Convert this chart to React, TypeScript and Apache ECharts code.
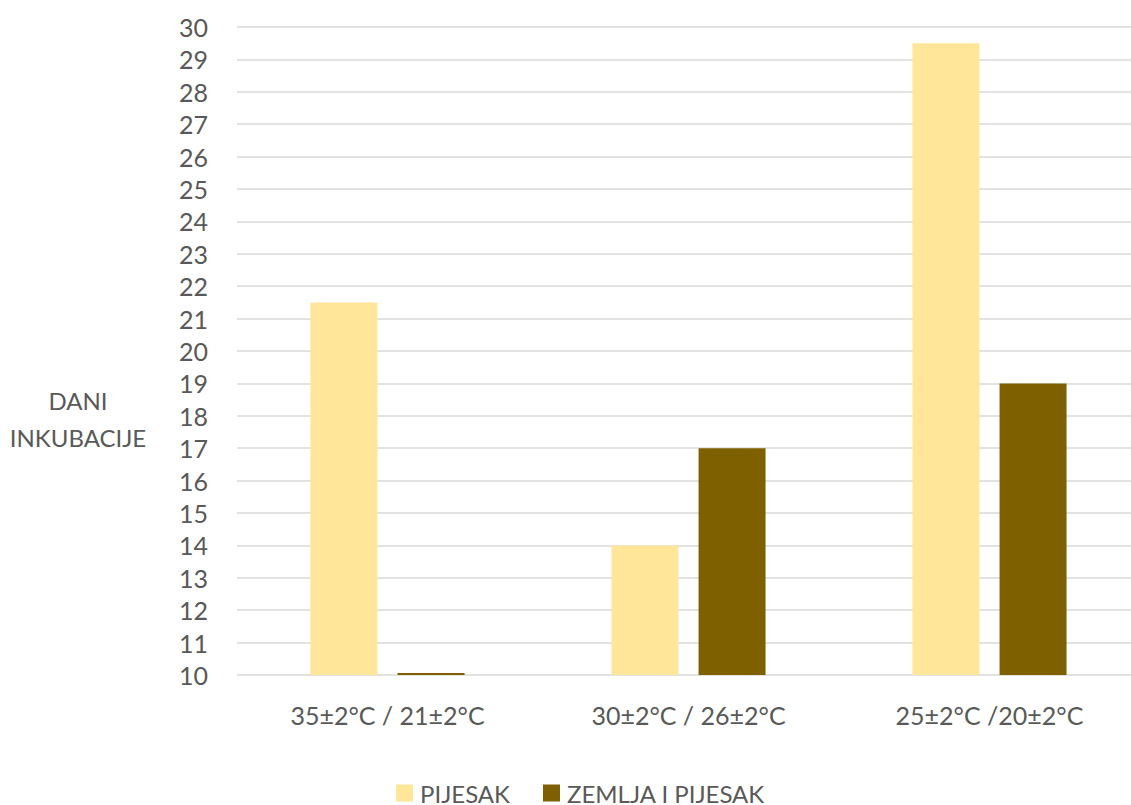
import React, { useEffect, useRef } from "react";
import * as echarts from "echarts";

const categories = ["35±2°C / 21±2°C", "30±2°C / 26±2°C", "25±2°C /20±2°C"];
const seriesNames = ["PIJESAK", "ZEMLJA I PIJESAK"];
const pijesak = [21.5, 14, 29.5];
const zemljaIPijesak = [10, 17, 19];
const yMin = 10;
const yMax = 30;

export default function App() {
  const ref = useRef<HTMLDivElement>(null);
  useEffect(() => {
    if (!ref.current) return;
    const chart = echarts.init(ref.current, null, { renderer: "svg" });
    const font = "Lato, 'Open Sans', sans-serif";
    const grey = "#595959";
    const dark = "#7F6000";
    // bars rise from the axis floor (yMin), so values are plotted relative to it
    const rel = (arr: number[]) => arr.map((v) => v - yMin);
    chart.setOption({
      animation: false,
      backgroundColor: "#ffffff",
      textStyle: { fontFamily: font },
      grid: {
        left: 237,
        top: 27,
        width: 903,
        height: 648,
        containLabel: false,
        outerBoundsMode: "none",
      },
      legend: {
        left: 396,
        top: 781,
        padding: 0,
        itemWidth: 17,
        itemHeight: 17,
        itemGap: 33,
        icon: "rect",
        textStyle: { fontSize: 24, color: grey, fontFamily: font, padding: [0, 0, 0, 2] },
        data: seriesNames,
      },
      graphic: [
        {
          type: "text",
          x: 78,
          y: 400,
          style: {
            text: "DANI",
            fontSize: 24,
            fill: grey,
            fontFamily: font,
            align: "center",
            verticalAlign: "middle",
          },
        },
        {
          type: "text",
          x: 78,
          y: 437,
          style: {
            text: "INKUBACIJE",
            fontSize: 24,
            fill: grey,
            fontFamily: font,
            align: "center",
            verticalAlign: "middle",
          },
        },
      ],
      xAxis: {
        type: "category",
        data: categories,
        axisLine: { show: false },
        axisTick: { show: false },
        axisLabel: { fontSize: 25, color: grey, margin: 27, fontFamily: font },
      },
      yAxis: {
        type: "value",
        min: 0,
        max: yMax - yMin,
        interval: 1,
        axisLine: { show: false },
        axisTick: { show: false },
        axisLabel: {
          fontSize: 25,
          color: grey,
          margin: 29,
          fontFamily: font,
          formatter: (v: number) => String(v + yMin),
        },
        splitLine: { lineStyle: { color: "#d9d9d9", width: 1.5 } },
      },
      series: [
        {
          name: seriesNames[0],
          type: "bar",
          data: rel(pijesak),
          barWidth: 67,
          barGap: "30%",
          itemStyle: { color: "#FFE699" },
        },
        {
          name: seriesNames[1],
          type: "bar",
          data: rel(zemljaIPijesak),
          barWidth: 67,
          barGap: "30%",
          barMinHeight: 2,
          clip: false,
          itemStyle: { color: dark },
        },
      ],
    });
    return () => chart.dispose();
  }, []);
  return (
    <div
      ref={ref}
      style={{ position: "fixed", left: 0, top: 0, width: 1131, height: 805 }}
    />
  );
}
